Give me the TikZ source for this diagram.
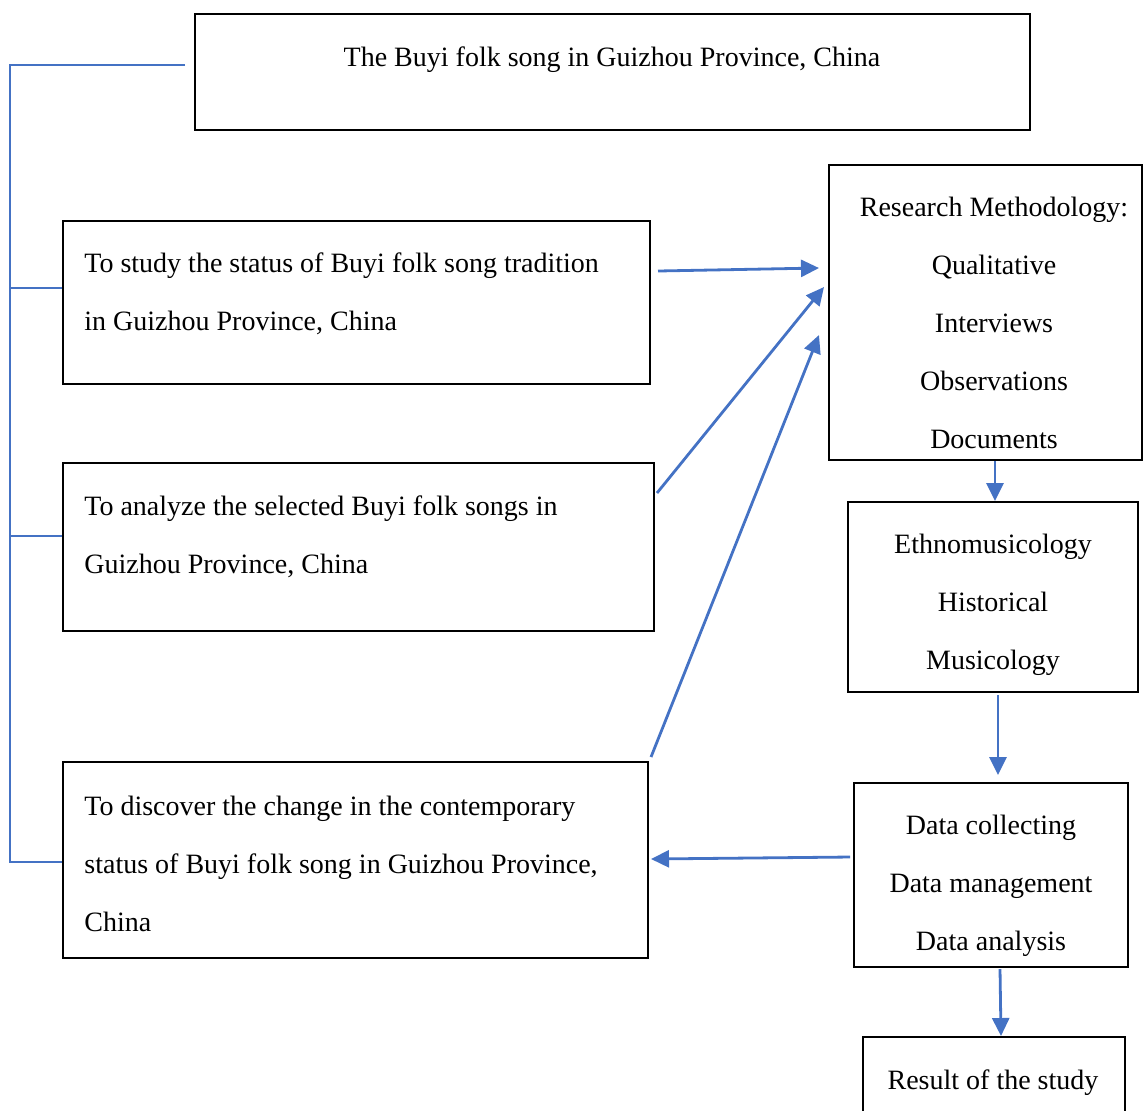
\documentclass[tikz,border=0pt]{standalone}
\usepackage{fontspec}
\setmainfont{Liberation Serif}
\usetikzlibrary{arrows.meta, positioning, calc}
\definecolor{colLink}{RGB}{68, 114, 196}

\begin{document}
\begin{tikzpicture}[x=0.5pt, y=-0.5pt,
    every node/.style={font=\fontsize{14pt}{29pt}\selectfont},
    box/.style={draw, line width=1pt, rectangle, inner sep=0pt},
    txt/.style={inner sep=0pt},
    link/.style={draw=colLink, line width=1.4pt},
    flow/.style={link, -{Triangle[length=9pt, width=8.5pt]}}]
    \clip (0,0) rectangle (1143,1110);

    % --- Judul ---
    \node[box, minimum width=417.5pt, minimum height=58pt] (title) at (612.5, 72) {};
    \node[txt] (txTitle) at (612, 59.5) {The Buyi folk song in Guizhou Province, China};

    % --- Tujuan penelitian (kiri) ---
    \node[box, minimum width=293.5pt, minimum height=81.5pt] (qA) at (356.5, 302.5) {};
    \node[txt, anchor=west, align=left] (txA) at (84, 294) {
        To study the status of Buyi folk song tradition\\
        in Guizhou Province, China};

    \node[box, minimum width=295.5pt, minimum height=84pt] (qB) at (358.5, 547) {};
    \node[txt, anchor=west, align=left] (txB) at (84, 536.5) {
        To analyze the selected Buyi folk songs in\\
        Guizhou Province, China};

    \node[box, minimum width=292.5pt, minimum height=98pt] (qC) at (355.5, 860) {};
    \node[txt, anchor=west, align=left] (txC) at (84, 863.5) {
        To discover the change in the contemporary\\
        status of Buyi folk song in Guizhou Province,\\
        China};

    % --- Metode (kanan) ---
    \node[box, minimum width=156.5pt, minimum height=147.5pt] (method) at (985.5, 312.5) {};
    \node[txt, align=center] (txMethod) at (994, 323) {
        Research Methodology:\\ Qualitative\\ Interviews\\ Observations\\ Documents};

    \node[box, minimum width=145pt, minimum height=95pt] (ethno) at (993, 597) {};
    \node[txt, align=center] (txEthno) at (993, 605) {
        Ethnomusicology\\ Historical\\ Musicology};

    \node[box, minimum width=137pt, minimum height=92pt] (data) at (991, 875) {};
    \node[txt, align=center] (txData) at (991, 885.5) {
        Data collecting\\ Data management\\ Data analysis};

    \node[box, minimum width=131pt, minimum height=50pt] (result) at (994, 1087) {};
    \node[txt] (txResult) at (993, 1082.5) {Result of the study};

    % Kurung kiri
    \draw[link] (185, 65) -- (10, 65) -- (10, 862) -- (qC.west |- 0, 862);
    \draw[link] (10, 288) -- (qA.west |- 0, 288);
    \draw[link] (10, 536) -- (qB.west |- 0, 536);

    % Panah ke metode
    \draw[flow] ($(qA.east)+(7,-31.5)$) -- ($(method.west)+(-9,-44.5)$);
    \draw[flow] ($(qB.east)+(2,-54)$) -- ($(method.west)+(-4,-25.5)$);
    \draw[flow] ($(qC.north east)+(2,-4)$) -- ($(method.west)+(-9,22.5)$);

    % Alur kanan
    \draw[flow] ($(method.south)+(9.5,0)$) -- ($(ethno.north)+(2,0)$);
    \draw[flow] ($(ethno.south)+(5,2)$) -- ($(data.north)+(7,-7)$);
    \draw[flow] ($(data.west)+(-3,-18)$) -- ($(qC.east)+(2,-1)$);
    \draw[flow] ($(data.south)+(9,1)$) -- ($(result.north)+(7,0)$);

\end{tikzpicture}
\end{document}
